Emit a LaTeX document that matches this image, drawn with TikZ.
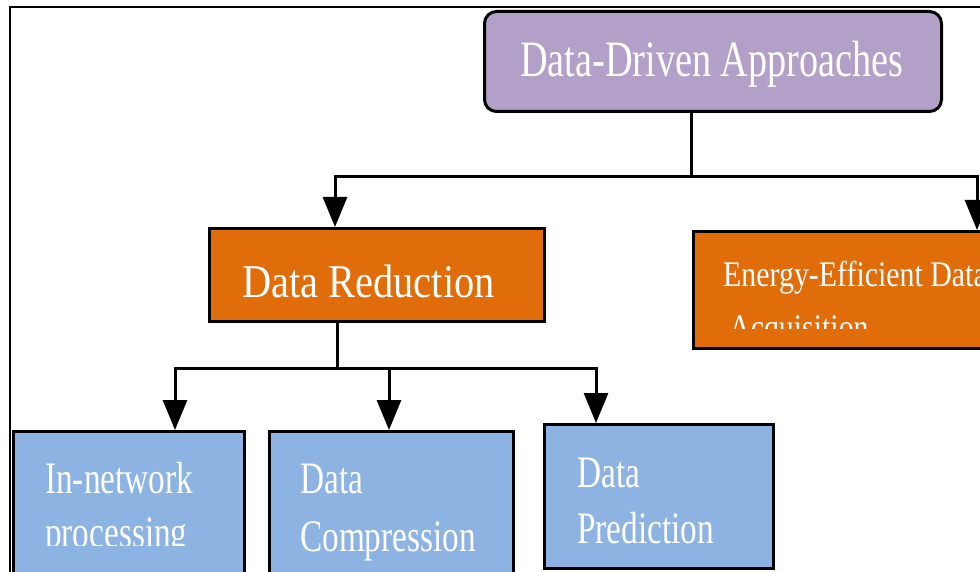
\documentclass[tikz,border=0pt]{standalone}
\usepackage{graphicx}
\usepackage{fontspec}
\setmainfont{Liberation Serif}[Ligatures=CommonOff]
\usetikzlibrary{arrows.meta}
\definecolor{cpurple}{HTML}{B2A0C8}
\definecolor{corange}{HTML}{E06C0A}
\definecolor{cblue}{HTML}{8DB3E2}
\newcommand{\sqz}[2]{\scalebox{#1}[1]{#2}}
\tikzset{
  box/.style={draw=black, line width=3pt, anchor=north west, inner sep=0pt},
  lbl/.style={anchor=base west, inner sep=0pt, text=white},
  conn/.style={line width=3pt},
  arr/.style={line width=3pt, -{Triangle[length=30pt,width=24pt]}},
}
\begin{document}
\begin{tikzpicture}[x=1pt,y=-1pt]
\useasboundingbox (0,0) rectangle (980,572);
\clip (0,0) rectangle (980,572);
% frame
\draw[line width=1.6pt] (10,650) -- (10,7) -- (1000,7);
% boxes
\node[box, fill=cpurple, rounded corners=12pt, minimum width=457pt, minimum height=100pt] (top) at (483,10) {};
\node[box, fill=corange, minimum width=335pt, minimum height=93pt] (dr) at (208,227) {};
\node[box, fill=corange, minimum width=330pt, minimum height=117pt] (ee) at (692,230) {};
\node[box, fill=cblue, minimum width=231pt, minimum height=200pt] (b1) at (12,430) {};
\node[box, fill=cblue, minimum width=244pt, minimum height=200pt] (b2) at (268,430) {};
\node[box, fill=cblue, minimum width=229pt, minimum height=144pt] (b3) at (543,423) {};
% labels
\node[lbl, font=\fontsize{51}{60}\selectfont] (ttop) at (520,77) {\sqz{0.75}{Data-Driven Approaches}};
\node[lbl, font=\fontsize{47}{56}\selectfont] (tdr) at (242,298) {\sqz{0.86}{Data Reduction}};
\node[lbl, font=\fontsize{36}{44}\selectfont] (tee1) at (723,287) {\sqz{0.83}{Energy-Efficient Data}};
\begin{scope}
\clip (692,300) rectangle (980,328);
\node[lbl, font=\fontsize{36}{44}\selectfont] (tee2) at (729,339) {\sqz{0.83}{Acquisition}};
\end{scope}
\node[lbl, font=\fontsize{45}{54}\selectfont] (tb1a) at (45,493) {\sqz{0.74}{In-network}};
\begin{scope}
\clip (12,500) rectangle (243,545.5);
\node[lbl, font=\fontsize{45}{54}\selectfont] (tb1b) at (45,547) {\sqz{0.74}{processing}};
\end{scope}
\node[lbl, font=\fontsize{45}{54}\selectfont] (tb2a) at (300,493) {\sqz{0.74}{Data}};
\node[lbl, font=\fontsize{45}{54}\selectfont] (tb2b) at (300,551) {\sqz{0.74}{Compression}};
\node[lbl, font=\fontsize{45}{54}\selectfont] (tb3a) at (577,487) {\sqz{0.74}{Data}};
\node[lbl, font=\fontsize{45}{54}\selectfont] (tb3b) at (577,543) {\sqz{0.74}{Prediction}};
% connectors
\coordinate (j1) at (691,177);
\coordinate (j2) at (337,368);
\draw[conn] (top.south -| j1) -- (j1);
\draw[arr] (j1) -| ([xshift=127pt]dr.north west);
\draw[arr] (j1) -| ([xshift=285pt]ee.north west);
\draw[conn] (dr.south -| j2) -- (j2);
\draw[arr] (j2) -| ([xshift=163pt]b1.north west);
\draw[arr] (j2) -| ([xshift=121pt]b2.north west);
\draw[arr] (j2) -| ([xshift=53pt]b3.north west);
\end{tikzpicture}
\end{document}
